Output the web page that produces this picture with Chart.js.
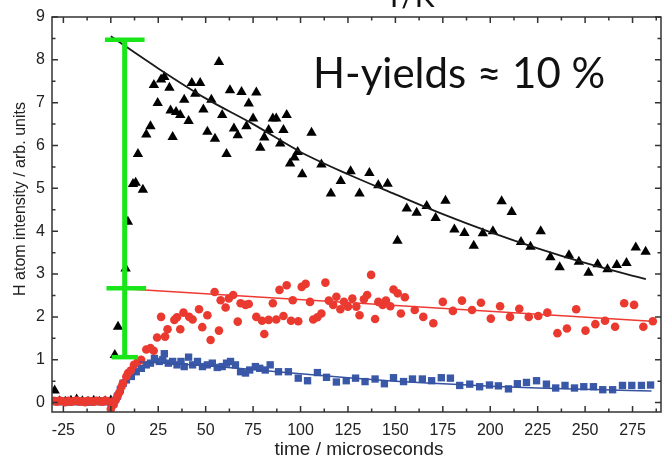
<!DOCTYPE html>
<html>
<head>
<meta charset="utf-8">
<script src="https://cdn.jsdelivr.net/npm/chart.js@4"></script>
<style>
  html, body { margin: 0; padding: 0; background: #fff; }
  #wrap { width: 667px; height: 457px; }
</style>
</head>
<body>
<div id="wrap"><canvas id="chart" width="667" height="457"></canvas></div>
<script>
// --- data (time in microseconds, intensity in arb. units) ---

var xTicks = [-25, 0, 25, 50, 75, 100, 125, 150, 175, 200, 225, 250, 275];
var yTicks = [0, 1, 2, 3, 4, 5, 6, 7, 8, 9];

// black triangles
var blackX = [-29.6, -27, -24, -21, -18, -15, -12, -9, -6, -3, 0,
  2.1, 3.8, 7.8, 9, 11.7, 13.1, 14.3, 16.9, 18.7, 20.9, 22.7, 24.7, 26.5, 28.2, 30.9, 31.5,
  32.6, 34.4, 36.6, 38.7, 41, 42.7, 44.5, 47.1, 48.8, 50.9, 53, 54.9, 57, 58.7, 61, 62.8,
  64.9, 66.9, 68.9, 71.5, 72.7, 75, 76.7, 78.8, 80.9, 83.2, 85.4, 87.2, 89.3, 91, 92.7,
  94.5, 96.8, 98.5, 100.9, 105.8, 111, 116, 121.2, 126.4, 131.1, 136.3, 141, 145.9,
  151.1, 156, 161.2, 166.5, 171.2, 176.4, 181.1, 186.4, 191.3, 196.1, 201.4, 206, 211.3,
  216.2, 221.2, 226.6, 231.7, 236.6, 241.5, 246.7, 251.8, 256.6, 261.8, 266.7, 271.8,
  276.7, 281.9];
var blackY = [0.28, 0.03, 0.02, 0.04, 0.07, 0.03, 0.02, 0.04, 0.02, 0.03, 0.05,
  1.11, 1.77, 3.13, 4.22, 5.1, 5.13, 5.8, 4.97, 6.26, 6.45, 7.41, 6.99, 7.54, 7.6, 7.35, 6.82,
  6.2, 6.78, 6.71, 7.07, 6.57, 7.46, 7.21, 7.46, 6.84, 6.32, 7.07, 6.16, 7.95, 6.71, 5.8, 7.29,
  6.4, 6.24, 7.25, 6.45, 6.98, 6.63, 7.24, 5.95, 6.19, 6.36, 6.63, 6.63, 6.05, 6.36, 6.71,
  5.58, 5.72, 5.85, 5.33, 6.3, 5.56, 4.88, 5.17, 5.4, 4.88, 5.36, 5.07, 5.11,
  3.78, 4.53, 4.43, 4.59, 4.31, 4.71, 4.04, 3.96, 3.66, 3.95, 4.0, 4.7, 4.45,
  3.75, 3.64, 4.0, 3.39, 3.16, 3.44, 3.29, 3.03, 3.23, 3.11, 3.21, 3.26,
  3.62, 3.52];

// red circles
var redX = [-30, -28.5, -27, -25.5, -24, -22.5, -21, -19.5, -18, -16.5, -15, -13.5, -12, -10.5,
  -9, -7.5, -6, -4.5, -3, -1.5,
  0, 1.5, 2.6, 3.5, 4.4, 5.6, 6.4, 8.2, 9.1, 10.5, 12.2, 14.3, 16, 18.7, 20.9, 22.6, 24.4,
  26.5, 28.6, 29.9, 33.5, 34.9, 36.6, 38.3, 41.3, 43.1, 46.5, 48.2, 50.9, 52.6, 54.7, 57,
  57.9, 60.5, 62.2, 64.5, 66.9, 68.4, 71, 72.7, 76.7, 79.7, 80.9, 83.2, 85.4, 87.2, 88.9,
  91, 92.7, 95, 95.9, 98.8, 100.6, 102.7, 105, 106.7, 108.9, 111, 113.1, 114.9, 117.2,
  118.9, 121, 122.9, 125, 127.3, 129.4, 131.1, 133.4, 135.1, 137.2, 139.3, 141, 143.3,
  145, 147.3, 149, 151.2, 152.9, 155, 160.2, 164.7, 170, 175, 180.3, 185.1, 190.4, 195.1,
  200.3, 205.2, 210.4, 215.3, 220.3, 225.3, 230.1, 235.4, 240.4, 245.3, 250.2, 255.4,
  260.5, 265.8, 270.6, 275.8, 280.7, 285.7];
var redY = [0.04, 0.02, 0.05, 0.03, 0.01, 0.04, 0.02, 0.03, 0.05, 0.02, 0.03, 0.01, 0.04, 0.03,
  0.02, 0.04, 0.03, 0.02, 0.05, 0.03,
  -0.15, -0.05, 0.06, 0.15, 0.23, 0.37, 0.45, 0.61, 0.69, 0.75, 0.88, 0.96, 1.0, 1.24, 1.27, 1.21, 1.52,
  2.0, 1.54, 1.71, 1.93, 1.99, 1.71, 2.1, 2.0, 1.94, 2.18, 1.76, 2.04, 1.46, 2.58, 1.68,
  2.39, 2.22, 2.43, 2.51, 1.89, 2.32, 2.28, 2.3, 2.0, 1.91, 1.6, 1.93, 2.32, 1.94, 2.63,
  2.02, 2.74, 1.91, 2.39, 1.9, 2.7, 2.77, 2.35, 1.94, 1.99, 2.08, 2.8, 2.38, 2.28,
  2.47, 2.18, 2.35, 2.24, 2.43, 2.24, 2.04, 2.41, 2.51, 2.98, 1.95, 2.35, 2.28,
  2.38, 2.25, 2.64, 2.55, 2.08, 2.46, 2.16, 2.0, 1.85, 2.35, 2.14, 2.38, 2.16, 2.33,
  1.96, 2.25, 2.0, 2.19, 2.0, 2.02, 2.1, 1.62, 1.73, 2.18, 1.68, 1.83,
  1.91, 1.77, 2.32, 2.28, 1.77, 1.9];

// blue squares
var blueX = [-30, -28.5, -27, -25.5, -24, -22.5, -21, -19.5, -18, -16.5, -15, -13.5, -12, -10.5,
  -9, -7.5, -6, -4.5, -3, -1.5,
  0, 2, 3.5, 5, 6.5, 8.2, 10.8, 13.4, 16.1, 18.7, 20.9, 23, 25.6, 27.4, 28.2, 30.3, 32.6,
  34.9, 37, 38.7, 41, 43.1, 45.7, 48.3, 50.9, 53.5, 56.1, 58.7, 61, 63.1, 65.7, 68.4, 71,
  73.2, 76.2, 78.5, 81.4, 84, 88.4, 93.6, 98.8, 103.7, 108.9, 113.7, 118.9, 124.1, 129,
  134, 139.3, 144.2, 149, 154.3, 159, 164.2, 169.1, 174.2, 179, 183.9, 189.2, 194.4,
  199.6, 204.3, 209.6, 214.3, 219.1, 224.4, 229.6, 234.5, 239.4, 244.4, 249.3, 254.4,
  259.3, 264.5, 269.7, 274.6, 279.7, 284.5];
var blueY = [0.03, 0.02, 0.04, 0.02, 0.03, 0.01, 0.03, 0.02, 0.04, 0.02, 0.03, 0.02, 0.03, 0.01,
  0.03, 0.02, 0.04, 0.02, 0.03, 0.02,
  0.0, 0.05, 0.15, 0.3, 0.45, 0.53, 0.61, 0.72, 0.8, 0.88, 0.92, 1.03, 0.96, 1.0, 1.14, 0.92, 0.96,
  0.88, 0.96, 0.84, 1.06, 0.88, 0.96, 0.84, 0.88, 0.92, 0.82, 0.84, 0.92, 0.96, 0.88, 0.72, 0.69,
  0.76, 0.84, 0.8, 0.76, 0.88, 0.72, 0.72, 0.57, 0.51, 0.7, 0.59, 0.48, 0.51, 0.57,
  0.49, 0.55, 0.44, 0.58, 0.49, 0.55, 0.55, 0.51, 0.58, 0.57, 0.4, 0.43, 0.37,
  0.41, 0.39, 0.32, 0.44, 0.47, 0.51, 0.43, 0.34, 0.4, 0.34, 0.37, 0.37,
  0.3, 0.3, 0.4, 0.4, 0.4, 0.41];

// fitted curves
var blackFitX = [0, 25, 50, 75, 100, 125, 150, 175, 200, 225, 250, 282];
var blackFitY = [8.55, 7.8, 7.1, 6.5, 5.85, 5.33, 4.86, 4.4, 3.98, 3.6, 3.26, 2.88];
var redFitX = [3, 285];
var redFitY = [2.67, 1.9];
var blueFitX = [15, 25, 50, 75, 100, 125, 150, 175, 200, 225, 250, 285];
var blueFitY = [0.95, 0.93, 0.86, 0.77, 0.67, 0.58, 0.5, 0.44, 0.38, 0.34, 0.31, 0.27];

// green bar (top, middle, bottom)
var barX = 7.3;
var barLevels = [8.47, 2.67, 1.06];
var barLeft = [-3.1, -2.3, 0.4];
var barRight = [17.8, 18.6, 14.3];

function pts(xs, ys) {
  return xs.map(function (x, i) { return { x: x, y: ys[i] }; });
}

var datasets = [];
// green bar on top
datasets.push({ data: [{ x: barX, y: barLevels[2] }, { x: barX, y: barLevels[0] }], showLine: true,
  borderColor: '#19e619', borderWidth: 5, pointRadius: 0, order: 0 });
for (var k = 0; k < barLevels.length; k++) {
  datasets.push({ data: [{ x: barLeft[k], y: barLevels[k] }, { x: barRight[k], y: barLevels[k] }],
    showLine: true, borderColor: '#19e619', borderWidth: 4.5, pointRadius: 0, order: 0 });
}
datasets.push({ data: pts(blackFitX, blackFitY), showLine: true, borderColor: '#1a1a1a', borderWidth: 1.8,
  pointRadius: 0, cubicInterpolationMode: 'monotone', order: 1 });
datasets.push({ data: pts(redFitX, redFitY), showLine: true, borderColor: '#ee3a32', borderWidth: 1.5,
  pointRadius: 0, order: 1 });
datasets.push({ data: pts(blueFitX, blueFitY), showLine: true, borderColor: '#3553a0', borderWidth: 1.5,
  pointRadius: 0, cubicInterpolationMode: 'monotone', order: 1 });
datasets.push({ data: pts(redX, redY), showLine: false, pointStyle: 'circle', pointRadius: 4.3,
  pointBackgroundColor: '#ea3a30', pointBorderWidth: 0, order: 2 });
datasets.push({ data: pts(blueX, blueY), showLine: false, pointStyle: 'rect', pointRadius: 5.2,
  pointBackgroundColor: '#3a58a8', pointBorderWidth: 0, order: 3 });
datasets.push({ data: pts(blackX, blackY), showLine: false, pointStyle: 'triangle', pointRadius: 6,
  pointBackgroundColor: '#000', pointBorderWidth: 0, order: 4 });

// frame, inward ticks and texts
var framePlugin = {
  id: 'frame',
  afterDraw: function (chart) {
    var ctx = chart.ctx;
    var a = chart.chartArea;
    var sx = chart.scales.x, sy = chart.scales.y;
    ctx.save();
    ctx.strokeStyle = '#333';
    ctx.lineWidth = 1.5;
    ctx.strokeRect(a.left, a.top, a.right - a.left, a.bottom - a.top);
    ctx.beginPath();
    xTicks.forEach(function (v) {
      var p = sx.getPixelForValue(v);
      ctx.moveTo(p, a.bottom); ctx.lineTo(p, a.bottom - 6);
      ctx.moveTo(p, a.top); ctx.lineTo(p, a.top + 6);
      var m = sx.getPixelForValue(v + 12.5);
      if (m < a.right) {
        ctx.moveTo(m, a.bottom); ctx.lineTo(m, a.bottom - 3.5);
        ctx.moveTo(m, a.top); ctx.lineTo(m, a.top + 3.5);
      }
    });
    var m0 = sx.getPixelForValue(xTicks[0] - 12.5);
    if (m0 > a.left) {
      ctx.moveTo(m0, a.bottom); ctx.lineTo(m0, a.bottom - 3.5);
      ctx.moveTo(m0, a.top); ctx.lineTo(m0, a.top + 3.5);
    }
    yTicks.forEach(function (v) {
      var p = sy.getPixelForValue(v);
      ctx.moveTo(a.left, p); ctx.lineTo(a.left + 6, p);
      ctx.moveTo(a.right, p); ctx.lineTo(a.right - 6, p);
      var m = sy.getPixelForValue(v + 0.5);
      if (m > a.top) {
        ctx.moveTo(a.left, m); ctx.lineTo(a.left + 3.5, m);
        ctx.moveTo(a.right, m); ctx.lineTo(a.right - 3.5, m);
      }
    });
    ctx.stroke();

    // axis titles
    ctx.fillStyle = '#222';
    ctx.textAlign = 'center';
    ctx.textBaseline = 'alphabetic';
    ctx.font = '19px "Liberation Sans", Arial, sans-serif';
    ctx.fillText('time / microseconds', 359, 455);
    ctx.font = '16px "Liberation Sans", Arial, sans-serif';
    ctx.save();
    ctx.translate(25, 199);
    ctx.rotate(-Math.PI / 2);
    ctx.fillText('H atom intensity / arb. units', 0, 0);
    ctx.restore();

    // annotation text
    ctx.fillStyle = '#111';
    ctx.textAlign = 'left';
    ctx.font = '42px Lato, "Open Sans", sans-serif';
    ctx.fillText('H-yields \u2248 10 %', 313, 88);
    ctx.textAlign = 'center';
    ctx.font = '30px Lato, "Open Sans", sans-serif';
    ctx.fillText('T/K', 410, 7);
    ctx.restore();
  }
};

new Chart(document.getElementById('chart'), {
  type: 'scatter',
  data: { datasets: datasets },
  options: {
    responsive: false,
    animation: false,
    devicePixelRatio: 1,
    layout: { padding: { top: 17, right: 2, left: 0, bottom: 0 } },
    plugins: { legend: { display: false }, tooltip: { enabled: false } },
    scales: {
      x: {
        type: 'linear', min: -31, max: 290,
        grid: { display: false, drawTicks: false },
        border: { display: false },
        ticks: { color: '#222', padding: 9, font: { family: '"Liberation Sans", Arial', size: 16 } },
        afterBuildTicks: function (s) { s.ticks = xTicks.map(function (v) { return { value: v }; }); },
        afterFit: function (s) { s.height = 45; }
      },
      y: {
        type: 'linear', min: -0.22, max: 9,
        grid: { display: false, drawTicks: false },
        border: { display: false },
        ticks: { color: '#222', padding: 7, font: { family: '"Liberation Sans", Arial', size: 16 } },
        afterBuildTicks: function (s) { s.ticks = yTicks.map(function (v) { return { value: v }; }); },
        afterFit: function (s) { s.width = 52; }
      }
    }
  },
  plugins: [framePlugin]
});
</script>
</body>
</html>
